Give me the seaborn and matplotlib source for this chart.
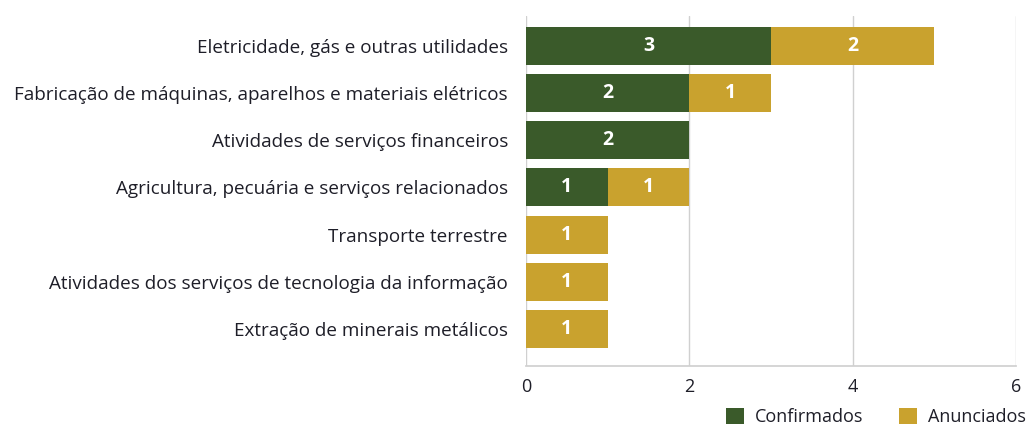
import pandas as pd
import matplotlib.pyplot as plt
import seaborn as sns

sns.set_theme(style="white")
plt.rcParams['font.family'] = ['Open Sans', 'DejaVu Sans']

# Dados
setores = [
    "Eletricidade, gás e outras utilidades",
    "Fabricação de máquinas, aparelhos e materiais elétricos",
    "Atividades de serviços financeiros",
    "Agricultura, pecuária e serviços relacionados",
    "Transporte terrestre",
    "Atividades dos serviços de tecnologia da informação",
    "Extração de minerais metálicos",
]
confirmados = [3, 2, 2, 1, 0, 0, 0]
anunciados = [2, 1, 0, 1, 1, 1, 1]

cor_conf = "#3a5a2a"
cor_anun = "#c9a22e"

df = pd.DataFrame({"setor": setores, "Confirmados": confirmados, "Anunciados": anunciados})
df["total"] = df["Confirmados"] + df["Anunciados"]

fig = plt.figure(figsize=(10.26, 4.26), dpi=100)
ax = fig.add_axes([0.5127, 0.141, 0.4775, 0.8216])

# barra total (anunciados) por baixo, confirmados por cima
sns.barplot(data=df, y="setor", x="total", color=cor_anun, orient="h", width=0.805, ax=ax,
            saturation=1, label="Anunciados", linewidth=0)
sns.barplot(data=df, y="setor", x="Confirmados", color=cor_conf, orient="h", width=0.805, ax=ax,
            saturation=1, label="Confirmados", linewidth=0)

# rótulos dentro das barras
for i, row in df.iterrows():
    if row["Confirmados"] > 0:
        ax.text(row["Confirmados"] / 2, i, str(row["Confirmados"]), ha="center", va="center",
                color="white", fontsize=14, fontweight="bold")
    if row["Anunciados"] > 0:
        ax.text(row["Confirmados"] + row["Anunciados"] / 2, i, str(row["Anunciados"]),
                ha="center", va="center", color="white", fontsize=14, fontweight="bold")

ax.set_xlim(0, 6)
ax.set_ylim(6.784, -0.636)
ax.set_xticks([0, 2, 4, 6])
ax.set_xlabel("")
ax.set_ylabel("")
ax.grid(axis="x", color="#d0d0d0", linewidth=1)
ax.set_axisbelow(True)
for s in ["top", "right", "left"]:
    ax.spines[s].set_visible(False)
ax.spines["bottom"].set_color("#d0d0d0")
ax.tick_params(axis="both", length=0, labelsize=13, colors="#1e1e28")
ax.tick_params(axis="y", labelsize=13.6, pad=13)
ax.tick_params(axis="x", pad=9)

handles, labels = ax.get_legend_handles_labels()
order = [labels.index("Confirmados"), labels.index("Anunciados")]
leg = ax.legend([handles[k] for k in order], [labels[k] for k in order],
                loc="center right", bbox_to_anchor=(1.02, -0.145), ncol=2, frameon=False,
                fontsize=13, handlelength=1.0, handleheight=1.0, columnspacing=2.0,
                handletextpad=0.6, borderaxespad=0, borderpad=0)
for t in leg.get_texts():
    t.set_color("#1e1e28")

plt.savefig("out.png", dpi=100)
